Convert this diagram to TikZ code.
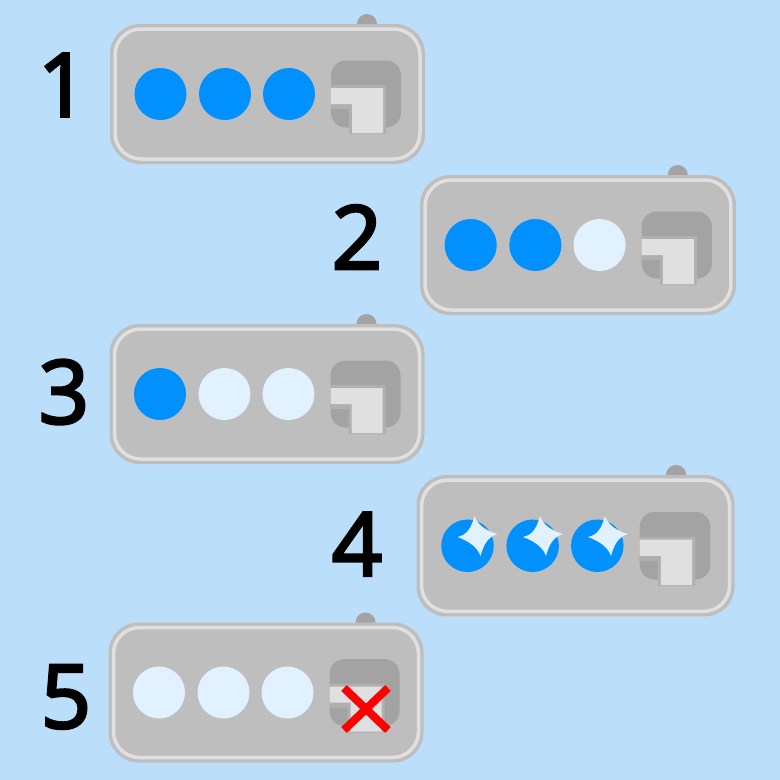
\documentclass[tikz,border=0pt]{standalone}
\usepackage{fontspec}
\setmainfont{Open Sans}[FakeBold=3.2]
\usepackage{tikz}
\definecolor{skyback}{HTML}{BBDEFB}
\definecolor{panelgray}{HTML}{BEBEBE}
\definecolor{ringgray}{HTML}{E0E0E0}
\definecolor{darkgray}{HTML}{A3A3A3}
\definecolor{bandgray}{HTML}{B0B0B0}
\definecolor{ledblue}{HTML}{0091FF}
\definecolor{ledpale}{HTML}{E1F1FF}
\tikzstyle{panelouter} = [rectangle, rounded corners=30pt, minimum width=315pt, minimum height=140pt, inner sep=0pt, fill=panelgray]
\tikzstyle{panelring} = [rectangle, rounded corners=26pt, minimum width=305pt, minimum height=130pt, inner sep=0pt, draw=ringgray, line width=3.5pt, fill=panelgray]
\tikzstyle{ledon} = [circle, minimum size=52pt, inner sep=0pt, fill=ledblue]
\tikzstyle{ledoff} = [circle, minimum size=52pt, inner sep=0pt, fill=ledpale]
\tikzstyle{socket} = [rectangle, rounded corners=15pt, minimum width=70pt, minimum height=67pt, inner sep=0pt, fill=darkgray]
\tikzstyle{number} = [font=\fontsize{88}{88}\selectfont, inner sep=0pt, text=black]
% one panel: name, placement, three led styles
\newcommand{\ledpanel}[5]{
  \begin{scope}[#2, transform shape]
    \fill[darkgray] (367,24) circle (10);
    \node (#1) [panelouter] at (267.5,94) {};
    \node (#1ring) [panelring] at (267.5,94) {};
    \node (#1ledA) [#3] at (160.5,94) {};
    \node (#1ledB) [#4] at (225,94) {};
    \node (#1ledC) [#5] at (289,94) {};
    \node (#1socket) [socket] at (366,94) {};
    \fill[bandgray] (331,85) -- (386,85) -- (386,134) -- (349,134) -- (349,109) -- (331,109) -- cycle;
    \fill[ringgray] (331,88) -- (383,88) -- (383,133) -- (352,133) -- (352,104) -- (331,104) -- cycle;
  \end{scope}
}
% four pointed star over a led
\newcommand{\sparkle}[1]{
  \fill[ledpale] ([shift={(-3,-20)}]#1.center) .. controls ([shift={(0,-11)}]#1.center) and ([shift={(9,-5)}]#1.center) ..
    ([shift={(20,-2)}]#1.center) .. controls ([shift={(10,1)}]#1.center) and ([shift={(6,9)}]#1.center) ..
    ([shift={(3,20)}]#1.center) .. controls ([shift={(0,11)}]#1.center) and ([shift={(-9,5)}]#1.center) ..
    ([shift={(-20,1)}]#1.center) .. controls ([shift={(-10,-1)}]#1.center) and ([shift={(-6,-9)}]#1.center) ..
    cycle;
}
\begin{document}
\begin{tikzpicture}[x=1pt, y=-1pt]
  \fill[skyback] (0,0) rectangle (780,780);
  \useasboundingbox (0,0) rectangle (780,780);
  \ledpanel{first}{xshift=0pt}{ledon}{ledon}{ledon}
  \ledpanel{second}{xshift=309.7pt, yshift=-151pt, xscale=1.003}{ledon}{ledon}{ledoff}
  \ledpanel{third}{xshift=-0.5pt, yshift=-300pt}{ledon}{ledoff}{ledoff}
  \ledpanel{fourth}{xshift=305.4pt, yshift=-450.8pt, xscale=1.01, yscale=1.01}{ledon}{ledon}{ledon}
  \ledpanel{fifth}{xshift=-1.5pt, yshift=-598.5pt}{ledoff}{ledoff}{ledoff}
  \coordinate (starA) at (477.5,536);
  \coordinate (starB) at (543,536);
  \coordinate (starC) at (608,536);
  \sparkle{starA}
  \sparkle{starB}
  \sparkle{starC}
  \node (numA) [number] at (63,85) {1};
  \node (numB) [number] at (357,237) {2};
  \node (numC) [number] at (64,392) {3};
  \node (numD) [number] at (357,544) {4};
  \node (numE) [number] at (66,697) {5};
  \coordinate (crossA) at (344,688);
  \coordinate (crossB) at (388,730);
  \coordinate (crossC) at (388,688);
  \coordinate (crossD) at (344,730);
  \draw[red, line width=8pt] (crossA) -- (crossB);
  \draw[red, line width=8pt] (crossC) -- (crossD);
\end{tikzpicture}
\end{document}
